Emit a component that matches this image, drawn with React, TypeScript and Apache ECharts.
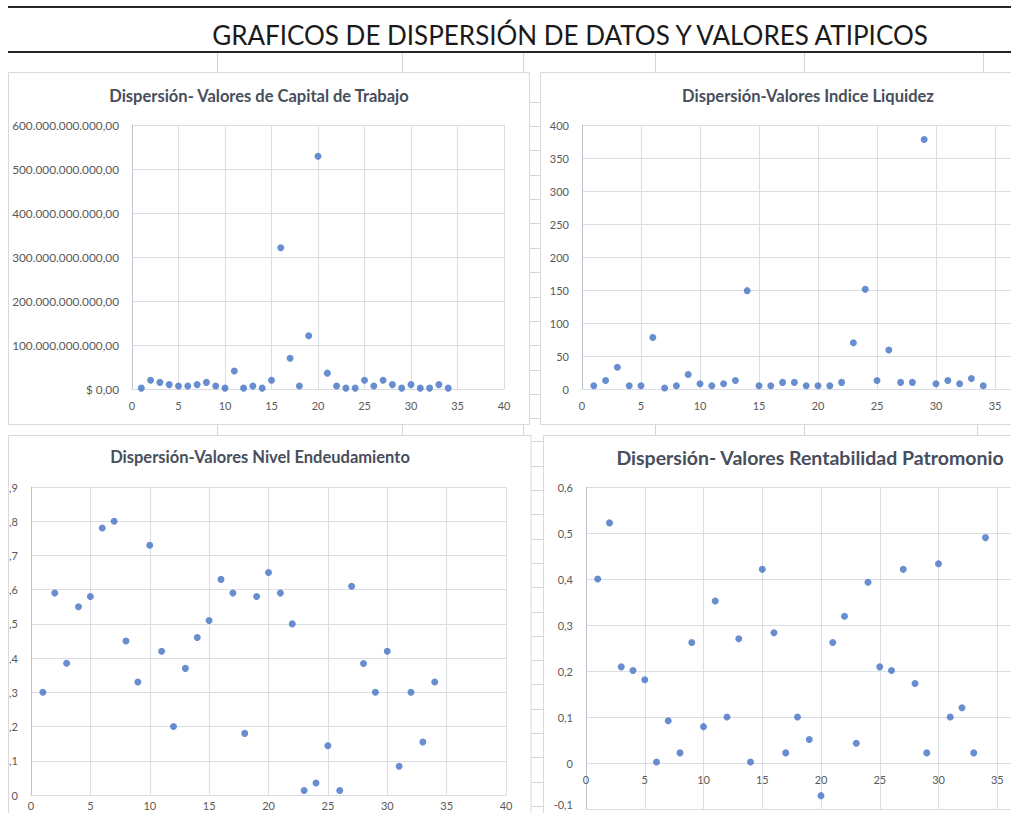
import React, { useEffect, useRef } from "react";
import * as echarts from "echarts";

const empresas = [1, 2, 3, 4, 5, 6, 7, 8, 9, 10, 11, 12, 13, 14, 15, 16, 17, 18, 19, 20, 21, 22, 23, 24, 25, 26, 27, 28, 29, 30, 31, 32, 33, 34];

const capitalTrabajo = [2e9, 20e9, 15e9, 10e9, 7e9, 7e9, 10e9, 15e9, 7e9, 2e9, 41e9, 2e9, 7e9, 2e9, 20e9, 321e9, 70e9, 7e9, 121e9, 529e9, 36e9, 7e9, 2e9, 2e9, 20e9, 7e9, 20e9, 10e9, 2e9, 10e9, 2e9, 2e9, 10e9, 2e9];

const indiceLiquidez = [5, 13, 33, 5, 5, 78, 1.5, 5, 22, 8, 5, 8, 13, 149, 5, 5, 10, 10, 5, 5, 5, 10, 70, 151, 13, 59, 10, 10, 378, 8, 13, 8, 16, 5];

const nivelEndeudamiento = [0.30, 0.59, 0.385, 0.55, 0.58, 0.78, 0.80, 0.45, 0.33, 0.73, 0.42, 0.20, 0.37, 0.46, 0.51, 0.63, 0.59, 0.18, 0.58, 0.65, 0.59, 0.50, 0.013, 0.035, 0.144, 0.013, 0.61, 0.384, 0.30, 0.42, 0.084, 0.30, 0.155, 0.33];

const rentabilidadPatrimonio = [0.40, 0.522, 0.209, 0.201, 0.181, 0.002, 0.092, 0.022, 0.262, 0.079, 0.352, 0.10, 0.27, 0.002, 0.421, 0.283, 0.022, 0.10, 0.051, -0.071, 0.262, 0.319, 0.043, 0.393, 0.209, 0.201, 0.421, 0.173, 0.022, 0.433, 0.10, 0.12, 0.022, 0.49];

const mainTitle = "GRAFICOS DE DISPERSIÓN DE DATOS Y VALORES ATIPICOS";
const chartTitles = [
  "Dispersión- Valores de Capital de Trabajo",
  "Dispersión-Valores Indice Liquidez",
  "Dispersión-Valores Nivel Endeudamiento",
  "Dispersión- Valores Rentabilidad Patromonio",
];

const FONT = "Lato, 'Open Sans', sans-serif";
const LABEL = "#595959";
const GRID = "#dadde3";
const CELL = "#d4d4d4";
const DOT = "#4472C4";

const pairs = (ys: number[]) => empresas.map((x, i) => [x, ys[i]]);

const fmtMoney = (v: number) =>
  v === 0 ? "$ 0,00" : String(Math.round(v)).replace(/\B(?=(\d{3})+(?!\d))/g, ".") + ",00";
const fmtEnd = (v: number) => (Math.abs(v) < 1e-9 ? "0" : "," + Math.round(v * 10));
const fmtRent = (v: number) => {
  if (Math.abs(v) < 1e-9) return "0";
  const s = (Math.round(v * 10) / 10).toString().replace(".", ",");
  return v < 0 ? `{low|${s}}` : s;
};
// the right-hand charts run past the window edge: their last tick label is out of view
const fmtClipped = (v: number) => (v >= 40 ? "" : String(v));

export default function App() {
  const ref = useRef<HTMLDivElement>(null);
  useEffect(() => {
    if (!ref.current) return;
    const chart = echarts.init(ref.current, null, { renderer: "svg" });

    const xAxisBase = (gi: number, extra: any = {}, labelExtra: any = {}) => ({
      type: "value",
      gridIndex: gi,
      min: 0,
      max: 40,
      interval: 5,
      axisLine: { show: true, onZero: false, lineStyle: { color: GRID } },
      axisTick: { show: false },
      splitLine: { show: true, lineStyle: { color: GRID, width: 1 } },
      axisLabel: { color: LABEL, fontSize: 11, fontFamily: FONT, margin: 11, ...labelExtra },
      ...extra,
    });
    const yAxisBase = (
      gi: number,
      min: number,
      max: number,
      interval: number,
      formatter: any,
      fontSize = 11,
      rich: any = undefined
    ) => ({
      type: "value",
      gridIndex: gi,
      min,
      max,
      interval,
      axisLine: { show: true, lineStyle: { color: "#bcc3cf" } },
      axisTick: { show: false },
      splitLine: { show: true, lineStyle: { color: GRID, width: 1 } },
      axisLabel: { color: LABEL, fontSize, fontFamily: FONT, margin: 13, formatter, ...(rich ? { rich } : {}) },
    });

    const graphics: any[] = [];
    const line = (x1: number, y1: number, x2: number, y2: number, stroke: string, lineWidth = 1) =>
      graphics.push({ type: "line", silent: true, shape: { x1, y1, x2, y2 }, style: { stroke, lineWidth } });

    // sheet heading lines
    line(8, 7, 1011, 7, "#262626", 2);
    line(8, 52, 1011, 52, "#262626", 2);
    graphics.push({
      type: "text",
      silent: true,
      x: 570,
      y: 35,
      style: { text: mainTitle, fill: "#1a1a1a", font: `26px ${FONT}`, align: "center", verticalAlign: "middle" },
    });
    // cells between heading and charts
    [217, 402, 523, 655, 804, 983].forEach((x) => line(x + 0.5, 53, x + 0.5, 72, CELL));
    // cells between rows of charts
    [217, 402, 523, 655, 804, 977].forEach((x) => line(x + 0.5, 424, x + 0.5, 435, CELL));
    // cells in the column gap
    for (let k = 0; k < 14; k++) {
      const y = Math.round(101.7 + 24.35 * k) + 0.5;
      line(529, y, 540, y, CELL);
    }
    for (let k = 0; k < 16; k++) {
      const y = Math.round(441.4 + 24.3 * k) + 0.5;
      line(531, y, 543, y, CELL);
    }
    // chart boxes
    const box = (x: number, y: number, w: number, h: number) =>
      graphics.push({
        type: "rect",
        silent: true,
        shape: { x, y, width: w, height: h },
        style: { fill: "transparent", stroke: "#d9d9d9", lineWidth: 1 },
      });
    box(8.5, 72.5, 521, 352);
    box(540.5, 72.5, 540, 352);
    box(8.5, 435.5, 522.5, 420);
    box(543.5, 435.5, 540, 420);

    // chart titles
    const titleText = (text: string, x: number, y: number, size: number) =>
      graphics.push({
        type: "text",
        silent: true,
        x,
        y,
        style: { text, fill: "#474e5c", font: `bold ${size}px ${FONT}`, align: "center", verticalAlign: "middle" },
      });
    titleText(chartTitles[0], 259, 96, 16.5);
    titleText(chartTitles[1], 808, 96, 16.5);
    titleText(chartTitles[2], 260, 457, 16.5);
    titleText(chartTitles[3], 810, 457, 19.5);

    const scatter = (i: number, data: number[]) => ({
      type: "scatter",
      xAxisIndex: i,
      yAxisIndex: i,
      symbolSize: 7,
      itemStyle: { color: DOT },
      data: pairs(data),
    });

    chart.setOption({
      animation: false,
      backgroundColor: "#ffffff",
      grid: [
        { left: 132, top: 125, width: 372, height: 264 },
        { left: 582, top: 125, width: 472, height: 264 },
        { left: 31, top: 487, width: 475, height: 308 },
        { left: 586, top: 487, width: 470, height: 322 },
      ],
      xAxis: [
        xAxisBase(0),
        xAxisBase(1, {}, { formatter: fmtClipped }),
        xAxisBase(2, {}, { margin: 5 }),
        xAxisBase(
          3,
          { offset: -46, axisLine: { show: false } },
          { margin: 11, formatter: fmtClipped }
        ),
      ],
      yAxis: [
        yAxisBase(0, 0, 600e9, 100e9, fmtMoney, 11.8),
        yAxisBase(1, 0, 400, 50, (v: number) => String(v)),
        yAxisBase(2, 0, 0.9, 0.1, fmtEnd),
        yAxisBase(3, -0.1, 0.6, 0.1, fmtRent, 11, {
          low: { color: LABEL, fontSize: 11, fontFamily: FONT, padding: [0, 0, 9, 0] },
        }),
      ],
      series: [
        scatter(0, capitalTrabajo),
        scatter(1, indiceLiquidez),
        scatter(2, nivelEndeudamiento),
        scatter(3, rentabilidadPatrimonio),
      ],
      graphic: { elements: graphics },
    });
    return () => chart.dispose();
  }, []);

  return (
    <div style={{ position: "absolute", left: 0, top: 0, width: 1011, height: 813, overflow: "hidden", background: "#fff" }}>
      <div ref={ref} style={{ position: "absolute", left: 0, top: 0, width: 1090, height: 850 }} />
    </div>
  );
}
